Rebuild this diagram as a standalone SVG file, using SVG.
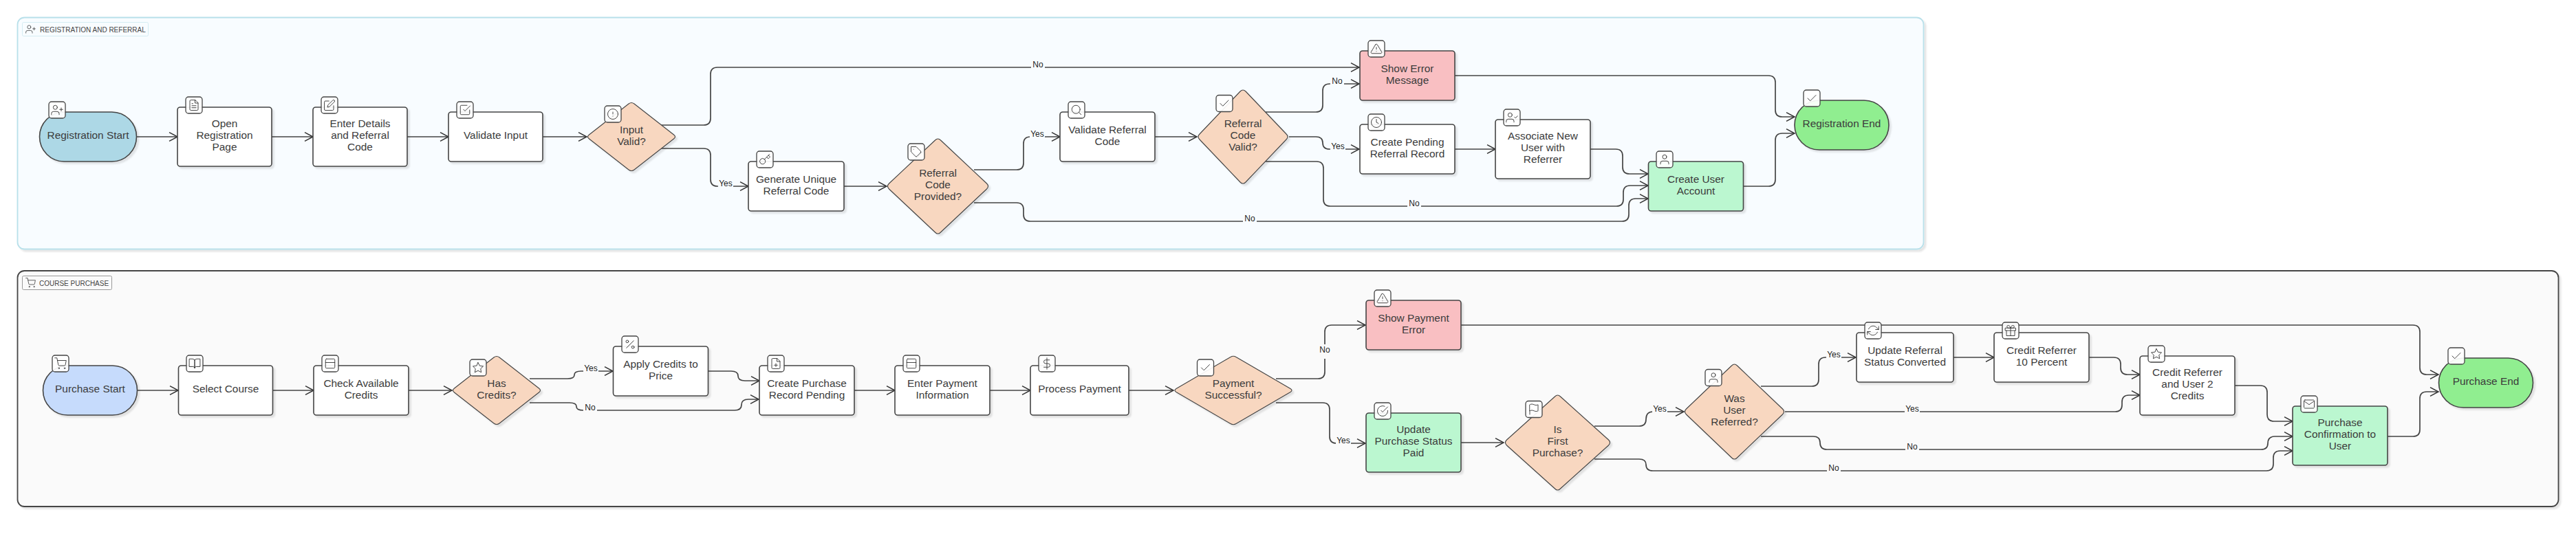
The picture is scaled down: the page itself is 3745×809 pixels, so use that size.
<svg xmlns="http://www.w3.org/2000/svg" xmlns:xlink="http://www.w3.org/1999/xlink" width="3745" height="809" viewBox="0 0 3745 809">
<style>
text{font-family:"Liberation Sans",Arial,sans-serif;fill:#3c3c3c}
.t{font-size:15.400px;text-anchor:middle}
.e{font-size:12px;text-anchor:middle;fill:#222}
.gl{font-size:10px;fill:#444}
.c{fill:none;stroke:#444;stroke-width:1.700;marker-end:url(#arr)}
.n{stroke:#444;stroke-width:1.600;filter:url(#sh)}
use.n{stroke-width:1.100}
.w{fill:#fff}.d{fill:#f8d7c0}.r{fill:#f9bfc2}.g{fill:#bbf7d0}.x{fill:#90ee90}
.b{fill:#fff;fill-opacity:.92;stroke:#444;stroke-width:1.300}
.i{fill:none;stroke:#333;stroke-width:1.200;stroke-linecap:round;stroke-linejoin:round}
.m1{fill:#f8fcff}.m2{fill:#fafafa}
</style>
<defs>
<filter id="sh" x="-10%" y="-10%" width="125%" height="125%"><feDropShadow dx="3" dy="3" stdDeviation="1" flood-color="#000" flood-opacity=".1"/></filter>
<marker id="arr" markerUnits="userSpaceOnUse" markerWidth="16" markerHeight="16" refX="13" refY="7" orient="auto"><path d="M1 .7L13 7L1 13.300" fill="none" stroke="#333" stroke-width="1.500"/></marker>
<symbol id="i-userplus" viewBox="0 0 24 24"><path class="i" d="M16 21v-2a4 4 0 0 0-4-4H5a4 4 0 0 0-4 4v2M20 8v6M23 11h-6"/><circle class="i" cx="8.500" cy="7" r="4"/></symbol>
<symbol id="i-file" viewBox="0 0 24 24"><path class="i" d="M14 2H6a2 2 0 0 0-2 2v16a2 2 0 0 0 2 2h12a2 2 0 0 0 2-2V8zM14 2v6h6M16 13H8M16 17H8M10 9H8"/></symbol>
<symbol id="i-edit" viewBox="0 0 24 24"><path class="i" d="M11 4H4a2 2 0 0 0-2 2v14a2 2 0 0 0 2 2h14a2 2 0 0 0 2-2v-7M18.500 2.500a2.121 2.121 0 0 1 3 3L12 15l-4 1 1-4z"/></symbol>
<symbol id="i-checksq" viewBox="0 0 24 24"><path class="i" d="M9 11l3 3L22 4M21 12v7a2 2 0 0 1-2 2H5a2 2 0 0 1-2-2V5a2 2 0 0 1 2-2h11"/></symbol>
<symbol id="i-alert" viewBox="0 0 24 24"><circle class="i" cx="12" cy="12" r="10"/><path class="i" d="M12 8v4M12 16h.01"/></symbol>
<symbol id="i-key" viewBox="0 0 24 24"><path class="i" d="M21 2l-2 2m-7.610 7.610a5.500 5.500 0 1 1-7.778 7.778 5.500 5.500 0 0 1 7.777-7.777zm0 0L15.500 7.500m0 0l3 3L22 7l-3-3m-3.500 3.500L19 4"/></symbol>
<symbol id="i-tag" viewBox="0 0 24 24"><path class="i" d="M20.590 13.410l-7.170 7.170a2 2 0 0 1-2.830 0L2 12V2h10l8.590 8.590a2 2 0 0 1 0 2.820zM7 7h.01"/></symbol>
<symbol id="i-search" viewBox="0 0 24 24"><circle class="i" cx="11" cy="11" r="8"/><path class="i" d="M21 21l-4.350-4.350"/></symbol>
<symbol id="i-check" viewBox="0 0 24 24"><path class="i" d="M20 6L9 17l-5-5"/></symbol>
<symbol id="i-tri" viewBox="0 0 24 24"><path class="i" d="M10.290 3.860L1.820 18a2 2 0 0 0 1.710 3h16.940a2 2 0 0 0 1.710-3L13.710 3.860a2 2 0 0 0-3.420 0zM12 9v4M12 17h.01"/></symbol>
<symbol id="i-clock" viewBox="0 0 24 24"><circle class="i" cx="12" cy="12" r="10"/><path class="i" d="M12 6v6l4 2"/></symbol>
<symbol id="i-usercheck" viewBox="0 0 24 24"><path class="i" d="M16 21v-2a4 4 0 0 0-4-4H5a4 4 0 0 0-4 4v2M17 11l2 2 4-4"/><circle class="i" cx="8.500" cy="7" r="4"/></symbol>
<symbol id="i-user" viewBox="0 0 24 24"><path class="i" d="M20 21v-2a4 4 0 0 0-4-4H8a4 4 0 0 0-4 4v2"/><circle class="i" cx="12" cy="7" r="4"/></symbol>
<symbol id="i-cart" viewBox="0 0 24 24"><circle class="i" cx="9" cy="21" r="1"/><circle class="i" cx="20" cy="21" r="1"/><path class="i" d="M1 1h4l2.680 13.390a2 2 0 0 0 2 1.610h9.720a2 2 0 0 0 2-1.610L23 6H6"/></symbol>
<symbol id="i-book" viewBox="0 0 24 24"><path class="i" d="M2 3h6a4 4 0 0 1 4 4v14a3 3 0 0 0-3-3H2zM22 3h-6a4 4 0 0 0-4 4v14a3 3 0 0 1 3-3h7z"/></symbol>
<symbol id="i-win" viewBox="0 0 24 24"><rect class="i" x="3" y="3" width="18" height="18" rx="2"/><path class="i" d="M3 10h18"/></symbol>
<symbol id="i-star" viewBox="0 0 24 24"><path class="i" d="M12 2L15.090 8.260L22 9.270L17 14.140L18.180 21.020L12 17.770L5.820 21.020L7 14.140L2 9.270L8.910 8.260z"/></symbol>
<symbol id="i-pct" viewBox="0 0 24 24"><path class="i" d="M19 5L5 19"/><circle class="i" cx="6.500" cy="6.500" r="2.500"/><circle class="i" cx="17.500" cy="17.500" r="2.500"/></symbol>
<symbol id="i-fileplus" viewBox="0 0 24 24"><path class="i" d="M14 2H6a2 2 0 0 0-2 2v16a2 2 0 0 0 2 2h12a2 2 0 0 0 2-2V8zM14 2v6h6M12 18v-6M9 15h6"/></symbol>
<symbol id="i-dollar" viewBox="0 0 24 24"><path class="i" d="M12 1v22M17 5H9.500a3.500 3.500 0 0 0 0 7h5a3.500 3.500 0 0 1 0 7H6"/></symbol>
<symbol id="i-checkc" viewBox="0 0 24 24"><path class="i" d="M22 11.080V12a10 10 0 1 1-5.930-9.140M22 4L12 14.010l-3-3"/></symbol>
<symbol id="i-flag" viewBox="0 0 24 24"><path class="i" d="M4 15s1-1 4-1 5 2 8 2 4-1 4-1V3s-1 1-4 1-5-2-8-2-4 1-4 1zM4 22v-7"/></symbol>
<symbol id="i-refresh" viewBox="0 0 24 24"><path class="i" d="M23 4v6h-6M1 20v-6h6M3.510 9a9 9 0 0 1 14.850-3.360L23 10M1 14l4.640 4.360A9 9 0 0 0 20.490 15"/></symbol>
<symbol id="i-gift" viewBox="0 0 24 24"><path class="i" d="M20 12v10H4V12M2 7h20v5H2zM12 22V7M12 7H7.500a2.500 2.500 0 0 1 0-5C11 2 12 7 12 7zM12 7h4.500a2.500 2.500 0 0 0 0-5C13 2 12 7 12 7z"/></symbol>
<symbol id="i-mail" viewBox="0 0 24 24"><path class="i" d="M4 4h16c1.100 0 2 .9 2 2v12c0 1.100-.9 2-2 2H4c-1.100 0-2-.9-2-2V6c0-1.100.9-2 2-2zM22 6l-10 7L2 6"/></symbol>
<path id="dA" d="M-61.500-3L-4-48Q0-51 4-48L61.500-3Q65.500 0 61.500 3L4 48Q0 51-4 48L-61.500 3Q-65.500 0-61.500-3Z"/>
<path id="dB" d="M-71-4L-4-67Q0-71 4-67L71-4Q75 0 71 4L4 67Q0 71-4 67L-71 4Q-75 0-71-4Z"/>
<path id="dC" d="M-63-4L-4-66Q0-70 4-66L63-4Q67 0 63 4L4 66Q0 70-4 66L-63 4Q-67 0-63-4Z"/>
<path id="dD" d="M-83-2.500L-4-48.500Q0-51 4-48.500L83-2.500Q87 0 83 2.500L4 48.500Q0 51-4 48.500L-83 2.500Q-87 0-83-2.500Z"/>
<path id="dE" d="M-74-4L-4-67Q0-71 4-67L74-4Q78 0 74 4L4 67Q0 71-4 67L-74 4Q-78 0-74-4Z"/>
<path id="dF" d="M-70-4L-4-67Q0-71 4-67L70-4Q74 0 70 4L4 67Q0 71-4 67L-70 4Q-74 0-70-4Z"/>
</defs>

<g id="group-registration">
<rect x="25.500" y="25.500" width="2771" height="337" rx="10" fill="#f8fcff" stroke="#b8e0ea" stroke-width="1.800" filter="url(#sh)"/>
<rect x="32.500" y="32.500" width="183" height="20" rx="2" fill="#f8fcff" stroke="#d5ecf3"/>
<use href="#i-userplus" x="37" y="35" width="15" height="15"/>
<text class="gl" x="58" y="47">REGISTRATION AND REFERRAL</text>
</g>
<g id="group-purchase">
<rect x="25.500" y="394" width="3694" height="343" rx="10" fill="#fafafa" stroke="#444" stroke-width="1.800" filter="url(#sh)"/>
<rect x="32.500" y="401.500" width="130" height="20" rx="2" fill="#fafafa" stroke="#999"/>
<use href="#i-cart" x="37" y="404" width="15" height="15"/>
<text class="gl" x="57" y="416">COURSE PURCHASE</text>
</g>

<g id="connectors">
<path class="c" d="M199 199H258"/>
<path class="c" d="M395 199H455"/>
<path class="c" d="M592 199H652"/>
<path class="c" d="M789 199H853"/>
<path class="c" d="M961 182H1023Q1033 182 1033 172V108Q1033 98 1043 98H1976"/>
<path class="c" d="M961 216H1023Q1033 216 1033 226V261Q1033 271 1043 271H1088"/>
<path class="c" d="M1227 271H1289"/>
<path class="c" d="M1416 247H1478Q1488 247 1488 237V209Q1488 199 1498 199H1541"/>
<path class="c" d="M1416 295H1478Q1488 295 1488 305V312Q1488 322 1498 322H2358Q2368 322 2368 312V299Q2368 289 2378 289H2396"/>
<path class="c" d="M1679 199H1740"/>
<path class="c" d="M1840 163H1913Q1923 163 1923 153V132Q1923 122 1933 122H1976"/>
<path class="c" d="M1874 199H1913Q1923 199 1923 208Q1923 217 1933 217H1976"/>
<path class="c" d="M1840 235H1914Q1924 235 1924 245V290Q1924 300 1934 300H2350Q2360 300 2360 290V280Q2360 270 2370 270H2396"/>
<path class="c" d="M2115 110H2571Q2581 110 2581 120V160Q2581 170 2591 170H2609"/>
<path class="c" d="M2534 271H2571Q2581 271 2581 261V204Q2581 194 2591 194H2609"/>
<path class="c" d="M2115 217H2174"/>
<path class="c" d="M2312 217H2349Q2359 217 2359 227V243Q2359 253 2369 253H2396"/>
<path class="c" d="M200 568H259"/>
<path class="c" d="M397 568H456"/>
<path class="c" d="M594 568H657"/>
<path class="c" d="M770 551H825Q835 551 835 545.500Q835 540 845 540H891"/>
<path class="c" d="M770 586H828Q838 586 838 591.500Q838 597 848 597H1068Q1078 597 1078 589Q1078 581 1088 581H1103"/>
<path class="c" d="M1030 540H1063Q1073 540 1073 547Q1073 554 1083 554H1104"/>
<path class="c" d="M1242 568H1301"/>
<path class="c" d="M1439 568H1498"/>
<path class="c" d="M1641 568H1706"/>
<path class="c" d="M1855 551H1916Q1926 551 1926 541V483Q1926 473 1936 473H1985"/>
<path class="c" d="M1855 586H1923Q1933 586 1933 596V635Q1933 645 1943 645H1985"/>
<path class="c" d="M2124 473H3508Q3518 473 3518 483V535Q3518 545 3528 545H3545"/>
<path class="c" d="M2124 644H2186"/>
<path class="c" d="M2318 620H2383Q2393 620 2393 610Q2393 599 2403 599H2448"/>
<path class="c" d="M2318 668H2383Q2393 668 2393 676Q2393 685 2403 685H3295Q3305 685 3305 675V666Q3305 656 3315 656H3333"/>
<path class="c" d="M2560 562H2634Q2644 562 2644 552V530Q2644 520 2654 520H2698"/>
<path class="c" d="M2595 599H3075Q3085 599 3085 589V585Q3085 575 3095 575H3111"/>
<path class="c" d="M2560 635H2636Q2646 635 2646 644Q2646 654 2656 654H3287Q3297 654 3297 645Q3297 635 3307 635H3333"/>
<path class="c" d="M2840 520H2899"/>
<path class="c" d="M3037 520H3073Q3083 520 3083 530V535Q3083 545 3093 545H3111"/>
<path class="c" d="M3249 561H3286Q3296 561 3296 571V603Q3296 613 3306 613H3333"/>
<path class="c" d="M3471 635H3508Q3518 635 3518 625V580Q3518 570 3528 570H3545"/>
<g id="edge-labels">
<rect class="m1" x="1499" y="87" width="20" height="14"/><text class="e" x="1509" y="98">No</text>
<rect class="m1" x="1044" y="260" width="22" height="14"/><text class="e" x="1055" y="271">Yes</text>
<rect class="m1" x="1497" y="188" width="22" height="14"/><text class="e" x="1508" y="199">Yes</text>
<rect class="m1" x="1807" y="311" width="20" height="14"/><text class="e" x="1817" y="322">No</text>
<rect class="m1" x="1934" y="111" width="20" height="14"/><text class="e" x="1944" y="122">No</text>
<rect class="m1" x="1934" y="206" width="22" height="14"/><text class="e" x="1945" y="217">Yes</text>
<rect class="m1" x="2046" y="289" width="20" height="14"/><text class="e" x="2056" y="300">No</text>
<rect class="m2" x="848" y="529" width="22" height="14"/><text class="e" x="859" y="540">Yes</text>
<rect class="m2" x="848" y="586" width="20" height="14"/><text class="e" x="858" y="597">No</text>
<rect class="m2" x="1915" y="501" width="22" height="21"/><text class="e" x="1926" y="513">No</text>
<rect class="m2" x="1942" y="634" width="22" height="14"/><text class="e" x="1953" y="645">Yes</text>
<rect class="m2" x="2402" y="588" width="22" height="14"/><text class="e" x="2413" y="599">Yes</text>
<rect class="m2" x="2655" y="509" width="22" height="14"/><text class="e" x="2666" y="520">Yes</text>
<rect class="m2" x="2769" y="588" width="22" height="14"/><text class="e" x="2780" y="599">Yes</text>
<rect class="m2" x="2770" y="643" width="20" height="14"/><text class="e" x="2780" y="654">No</text>
<rect class="m2" x="2656" y="674" width="20" height="14"/><text class="e" x="2666" y="685">No</text>
</g>
</g>

<g id="n-registration-start"><rect class="n" x="57.500" y="163" width="141" height="72" rx="36" fill="#add8e6"/><rect class="b" x="71" y="148" width="24" height="24" rx="4"/><use href="#i-userplus" x="74" y="151" width="18" height="18"/><text class="t" x="128" y="202">Registration Start</text></g>
<g id="n-open-page"><rect class="n w" x="258" y="156" width="137" height="86" rx="4"/><rect class="b" x="270" y="141" width="24" height="24" rx="4"/><use href="#i-file" x="273" y="144" width="18" height="18"/><text class="t" x="326.500" y="185">Open</text><text class="t" x="326.500" y="202">Registration</text><text class="t" x="326.500" y="219">Page</text></g>
<g id="n-enter-details"><rect class="n w" x="455" y="156" width="137" height="86" rx="4"/><rect class="b" x="467" y="141" width="24" height="24" rx="4"/><use href="#i-edit" x="470" y="144" width="18" height="18"/><text class="t" x="523.500" y="185">Enter Details</text><text class="t" x="523.500" y="202">and Referral</text><text class="t" x="523.500" y="219">Code</text></g>
<g id="n-validate-input"><rect class="n w" x="652" y="163" width="137" height="72" rx="4"/><rect class="b" x="664" y="148" width="24" height="24" rx="4"/><use href="#i-checksq" x="667" y="151" width="18" height="18"/><text class="t" x="720.500" y="202">Validate Input</text></g>
<g id="n-input-valid"><use href="#dA" class="n d" transform="translate(918 199)"/><rect class="b" x="879" y="154" width="24" height="24" rx="4"/><use href="#i-alert" x="882" y="157" width="18" height="18"/><text class="t" x="918" y="193.500">Input</text><text class="t" x="918" y="210.500">Valid?</text></g>
<g id="n-generate-code"><rect class="n w" x="1088" y="235" width="139" height="72" rx="4"/><rect class="b" x="1100" y="220" width="24" height="24" rx="4"/><use href="#i-key" x="1103" y="223" width="18" height="18"/><text class="t" x="1157.500" y="265.500">Generate Unique</text><text class="t" x="1157.500" y="282.500">Referral Code</text></g>
<g id="n-code-provided"><use href="#dB" class="n d" transform="translate(1363.500 271)"/><rect class="b" x="1320" y="209" width="24" height="24" rx="4"/><use href="#i-tag" x="1323" y="212" width="18" height="18"/><text class="t" x="1363.500" y="257">Referral</text><text class="t" x="1363.500" y="274">Code</text><text class="t" x="1363.500" y="291">Provided?</text></g>
<g id="n-validate-code"><rect class="n w" x="1541" y="163" width="138" height="72" rx="4"/><rect class="b" x="1553" y="148" width="24" height="24" rx="4"/><use href="#i-search" x="1556" y="151" width="18" height="18"/><text class="t" x="1610" y="193.500">Validate Referral</text><text class="t" x="1610" y="210.500">Code</text></g>
<g id="n-code-valid"><use href="#dC" class="n d" transform="translate(1807 199)"/><rect class="b" x="1768" y="138.500" width="24" height="24" rx="4"/><use href="#i-check" x="1771" y="141.500" width="18" height="18"/><text class="t" x="1807" y="185">Referral</text><text class="t" x="1807" y="202">Code</text><text class="t" x="1807" y="219">Valid?</text></g>
<g id="n-show-error"><rect class="n r" x="1977" y="74" width="138" height="72" rx="4"/><rect class="b" x="1989" y="59" width="24" height="24" rx="4"/><use href="#i-tri" x="1992" y="62" width="18" height="18"/><text class="t" x="2046" y="104.500">Show Error</text><text class="t" x="2046" y="121.500">Message</text></g>
<g id="n-pending"><rect class="n w" x="1977" y="181" width="138" height="72" rx="4"/><rect class="b" x="1989" y="166" width="24" height="24" rx="4"/><use href="#i-clock" x="1992" y="169" width="18" height="18"/><text class="t" x="2046" y="211.500">Create Pending</text><text class="t" x="2046" y="228.500">Referral Record</text></g>
<g id="n-associate"><rect class="n w" x="2174" y="174" width="138" height="86" rx="4"/><rect class="b" x="2186" y="159" width="24" height="24" rx="4"/><use href="#i-usercheck" x="2189" y="162" width="18" height="18"/><text class="t" x="2243" y="203">Associate New</text><text class="t" x="2243" y="220">User with</text><text class="t" x="2243" y="237">Referrer</text></g>
<g id="n-create-user"><rect class="n g" x="2396.500" y="235" width="138" height="72" rx="4"/><rect class="b" x="2408" y="220" width="24" height="24" rx="4"/><use href="#i-user" x="2411" y="223" width="18" height="18"/><text class="t" x="2465.500" y="265.500">Create User</text><text class="t" x="2465.500" y="282.500">Account</text></g>
<g id="n-registration-end"><rect class="n x" x="2609" y="146" width="137" height="72" rx="36"/><rect class="b" x="2622" y="131" width="24" height="24" rx="4"/><use href="#i-check" x="2625" y="134" width="18" height="18"/><text class="t" x="2677.500" y="185">Registration End</text></g>

<g id="n-purchase-start"><rect class="n" x="62.500" y="532" width="137" height="72" rx="36" fill="#c6dbfc"/><rect class="b" x="76" y="517" width="24" height="24" rx="4"/><use href="#i-cart" x="79" y="520" width="18" height="18"/><text class="t" x="131" y="571">Purchase Start</text></g>
<g id="n-select-course"><rect class="n w" x="259.500" y="532" width="137" height="72" rx="4"/><rect class="b" x="271" y="517" width="24" height="24" rx="4"/><use href="#i-book" x="274" y="520" width="18" height="18"/><text class="t" x="328" y="571">Select Course</text></g>
<g id="n-check-credits"><rect class="n w" x="456" y="532" width="138" height="72" rx="4"/><rect class="b" x="468" y="517" width="24" height="24" rx="4"/><use href="#i-win" x="471" y="520" width="18" height="18"/><text class="t" x="525" y="562.500">Check Available</text><text class="t" x="525" y="579.500">Credits</text></g>
<g id="n-has-credits"><use href="#dA" class="n d" transform="translate(722 568)"/><rect class="b" x="683" y="523" width="24" height="24" rx="4"/><use href="#i-star" x="686" y="526" width="18" height="18"/><text class="t" x="722" y="562.500">Has</text><text class="t" x="722" y="579.500">Credits?</text></g>
<g id="n-apply-credits"><rect class="n w" x="891.500" y="504" width="138" height="72" rx="4"/><rect class="b" x="904" y="489" width="24" height="24" rx="4"/><use href="#i-pct" x="907" y="492" width="18" height="18"/><text class="t" x="960.500" y="534.500">Apply Credits to</text><text class="t" x="960.500" y="551.500">Price</text></g>
<g id="n-create-record"><rect class="n w" x="1104" y="532" width="138" height="72" rx="4"/><rect class="b" x="1116" y="517" width="24" height="24" rx="4"/><use href="#i-fileplus" x="1119" y="520" width="18" height="18"/><text class="t" x="1173" y="562.500">Create Purchase</text><text class="t" x="1173" y="579.500">Record Pending</text></g>
<g id="n-enter-payment"><rect class="n w" x="1301" y="532" width="138" height="72" rx="4"/><rect class="b" x="1313" y="517" width="24" height="24" rx="4"/><use href="#i-win" x="1316" y="520" width="18" height="18"/><text class="t" x="1370" y="562.500">Enter Payment</text><text class="t" x="1370" y="579.500">Information</text></g>
<g id="n-process-payment"><rect class="n w" x="1498" y="532" width="143" height="72" rx="4"/><rect class="b" x="1510" y="517" width="24" height="24" rx="4"/><use href="#i-dollar" x="1513" y="520" width="18" height="18"/><text class="t" x="1569.500" y="571">Process Payment</text></g>
<g id="n-payment-ok"><use href="#dD" class="n d" transform="translate(1793 568)"/><rect class="b" x="1740.500" y="523" width="24" height="24" rx="4"/><use href="#i-check" x="1743.500" y="526" width="18" height="18"/><text class="t" x="1793" y="562.500">Payment</text><text class="t" x="1793" y="579.500">Successful?</text></g>
<g id="n-payment-error"><rect class="n r" x="1986" y="437" width="138" height="72" rx="4"/><rect class="b" x="1998" y="422" width="24" height="24" rx="4"/><use href="#i-tri" x="2001" y="425" width="18" height="18"/><text class="t" x="2055" y="467.500">Show Payment</text><text class="t" x="2055" y="484.500">Error</text></g>
<g id="n-update-status"><rect class="n g" x="1986" y="601" width="138" height="86" rx="4"/><rect class="b" x="1998" y="586" width="24" height="24" rx="4"/><use href="#i-checkc" x="2001" y="589" width="18" height="18"/><text class="t" x="2055" y="630">Update</text><text class="t" x="2055" y="647">Purchase Status</text><text class="t" x="2055" y="664">Paid</text></g>
<g id="n-first-purchase"><use href="#dE" class="n d" transform="translate(2264.500 644)"/><rect class="b" x="2218" y="583.500" width="24" height="24" rx="4"/><use href="#i-flag" x="2221" y="586.500" width="18" height="18"/><text class="t" x="2264.500" y="630">Is</text><text class="t" x="2264.500" y="647">First</text><text class="t" x="2264.500" y="664">Purchase?</text></g>
<g id="n-was-referred"><use href="#dF" class="n d" transform="translate(2521.500 599)"/><rect class="b" x="2479" y="537.500" width="24" height="24" rx="4"/><use href="#i-user" x="2482" y="540.500" width="18" height="18"/><text class="t" x="2521.500" y="585">Was</text><text class="t" x="2521.500" y="602">User</text><text class="t" x="2521.500" y="619">Referred?</text></g>
<g id="n-update-referral"><rect class="n w" x="2699" y="484" width="141" height="72" rx="4"/><rect class="b" x="2711" y="469" width="24" height="24" rx="4"/><use href="#i-refresh" x="2714" y="472" width="18" height="18"/><text class="t" x="2769.500" y="514.500">Update Referral</text><text class="t" x="2769.500" y="531.500">Status Converted</text></g>
<g id="n-credit-referrer"><rect class="n w" x="2899" y="484" width="138" height="72" rx="4"/><rect class="b" x="2911" y="469" width="24" height="24" rx="4"/><use href="#i-gift" x="2914" y="472" width="18" height="18"/><text class="t" x="2968" y="514.500">Credit Referrer</text><text class="t" x="2968" y="531.500">10 Percent</text></g>
<g id="n-credit-both"><rect class="n w" x="3111" y="518" width="138" height="86" rx="4"/><rect class="b" x="3123" y="503" width="24" height="24" rx="4"/><use href="#i-star" x="3126" y="506" width="18" height="18"/><text class="t" x="3180" y="547">Credit Referrer</text><text class="t" x="3180" y="564">and User 2</text><text class="t" x="3180" y="581">Credits</text></g>
<g id="n-confirmation"><rect class="n g" x="3333" y="591" width="138" height="86" rx="4"/><rect class="b" x="3345" y="576" width="24" height="24" rx="4"/><use href="#i-mail" x="3348" y="579" width="18" height="18"/><text class="t" x="3402" y="620">Purchase</text><text class="t" x="3402" y="637">Confirmation to</text><text class="t" x="3402" y="654">User</text></g>
<g id="n-purchase-end"><rect class="n x" x="3545.500" y="521" width="137" height="72" rx="36"/><rect class="b" x="3559" y="506" width="24" height="24" rx="4"/><use href="#i-check" x="3562" y="509" width="18" height="18"/><text class="t" x="3614" y="560">Purchase End</text></g>
</svg>
